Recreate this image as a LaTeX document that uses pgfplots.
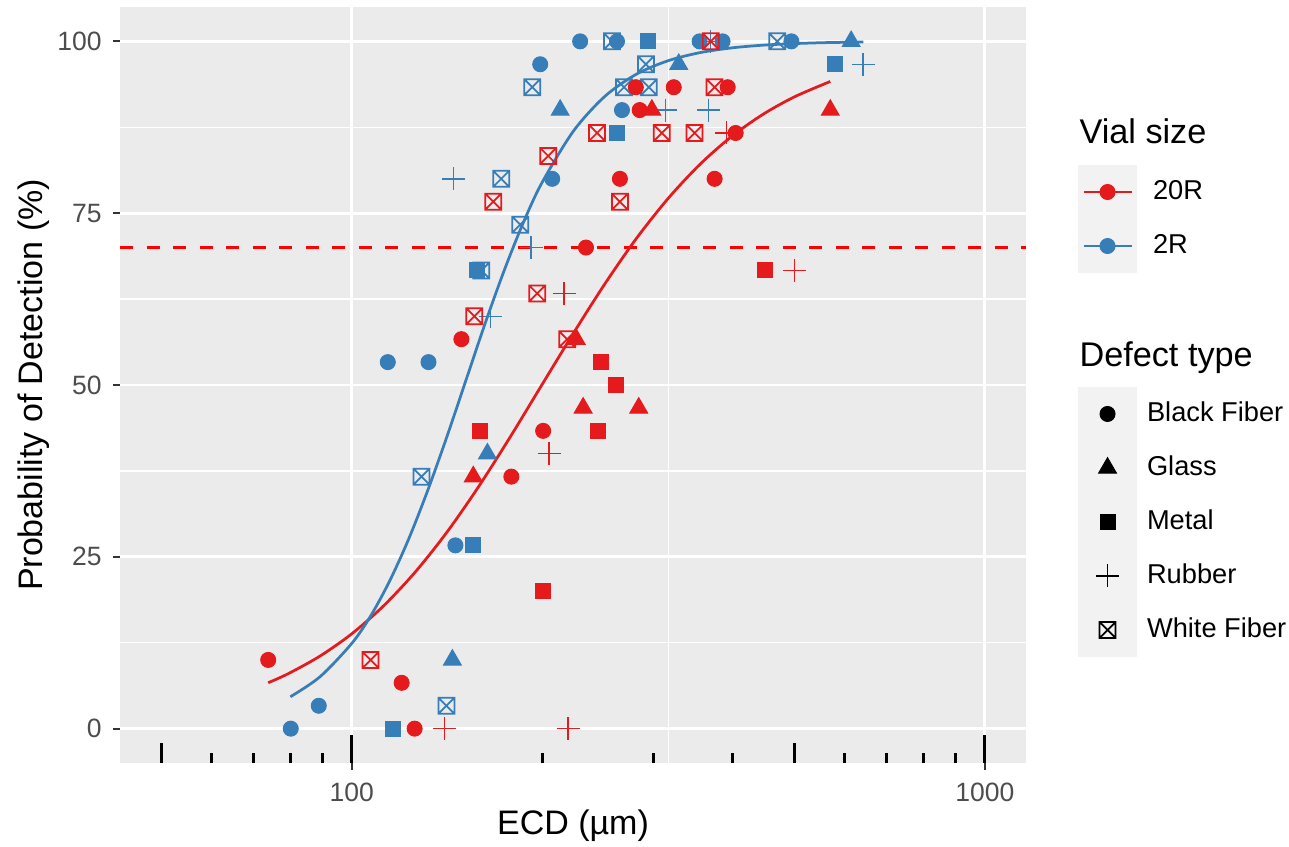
\documentclass[border=0pt]{standalone}
\usepackage{fontspec}
\setmainfont{Liberation Sans}
\usepackage{pgfplots}
\pgfplotsset{compat=1.18}

\definecolor{c20}{HTML}{E41A1C}
\definecolor{c2}{HTML}{377EB8}
\definecolor{ggbg}{HTML}{EBEBEB}
\definecolor{ggkey}{HTML}{F2F2F2}
\definecolor{grey20}{HTML}{333333}
\definecolor{grey30}{HTML}{4D4D4D}

% square with a cross, like R's pch 7
\pgfdeclareplotmark{boxx}{%
  \pgfpathrectangle{\pgfpoint{-\pgfplotmarksize}{-\pgfplotmarksize}}{\pgfpoint{2\pgfplotmarksize}{2\pgfplotmarksize}}%
  \pgfpathmoveto{\pgfpoint{-\pgfplotmarksize}{-\pgfplotmarksize}}%
  \pgfpathlineto{\pgfpoint{\pgfplotmarksize}{\pgfplotmarksize}}%
  \pgfpathmoveto{\pgfpoint{-\pgfplotmarksize}{\pgfplotmarksize}}%
  \pgfpathlineto{\pgfpoint{\pgfplotmarksize}{-\pgfplotmarksize}}%
  \pgfusepathqstroke}

\pgfplotsset{
  bf/.style={only marks, mark=*, mark size=3pt, forget plot},
  gl/.style={only marks, mark=triangle*, mark size=4.1pt, forget plot},
  mt/.style={only marks, mark=square*, mark size=3pt, forget plot},
  rb/.style={only marks, mark=+, mark size=4.6pt, mark options={line width=0.6pt}, forget plot},
  wf/.style={only marks, mark=boxx, mark size=3.2pt, mark options={line width=0.7pt}, forget plot},
}

\begin{document}
\begin{tikzpicture}
\path[use as bounding box] (-48pt,-33.2pt) rectangle (467.6pt,305.2pt);

\begin{axis}[
  name=main, at={(0pt,0pt)}, anchor=south west,
  width=362.4pt, height=302.4pt, scale only axis,
  xmode=log, xmin=43.05, xmax=1161.6, ymin=-5, ymax=105,
  clip=false,
  axis background/.style={fill=ggbg},
  axis line style={draw=none},
  xtick={100,1000}, xticklabels={100,1000},
  ytick={0,25,50,75,100}, yticklabels={0,25,50,75,100},
  minor xtick={316.23}, minor ytick={12.5,37.5,62.5,87.5},
  grid=both,
  major grid style={white, line width=1.15pt},
  minor grid style={white, line width=0.6pt},
  tick align=outside, tick pos=left,
  major tick length=2.8pt, minor tick length=0pt,
  tick style={color=grey20, line width=0.7pt},
  ticklabel style={font=\fontsize{10.6}{12}\selectfont, text=grey30, inner sep=0pt},
  xticklabel style={anchor=north, yshift=-4.8pt},
  yticklabel style={anchor=east, xshift=-4.4pt},
  xlabel={ECD (µm)},
  ylabel={Probability of Detection (\%)},
  label style={font=\fontsize{13.6}{16}\selectfont},
  xlabel style={at={(axis description cs:0.5,-0.0939)}, anchor=base},
  ylabel style={at={(axis description cs:-0.085,0.5)}, anchor=base},
  legend style={at={(axis description cs:1.0574,0.791)}, anchor=north west,
    draw=none, fill=none, inner sep=0pt, outer sep=0pt,
    row sep=0pt, column sep=6.4pt, font=\fontsize{10.9}{12}\selectfont,
    nodes={inner sep=0pt}},
  legend cell align=left,
  legend image code/.code={
    \fill[ggkey] (0pt,-10.6pt) rectangle (23.2pt,10.6pt);
    \draw[#1, line width=1.1pt] (2pt,0pt) -- (21.2pt,0pt);
    \fill[#1] (11.6pt,0pt) circle (3pt);
  },
]

% threshold line
\addplot[color=red, line width=1.3pt, dash pattern=on 5.3pt off 5.3pt, forget plot]
  coordinates {(43.05,70) (1161.6,70)};

% 2R points
\addplot[c2, bf] coordinates {(80.1,0) (88.7,3.33) (114,53.33) (132.2,53.33) (145.8,26.67) (198.5,96.67) (207.3,80) (229.5,100) (262.4,100) (267.2,90) (354.4,100) (385.3,100) (494.8,100)};
\addplot[c2, gl] coordinates {(144.2,10) (163.8,40) (213.4,90) (328.5,96.67) (615,100)};
\addplot[c2, mt] coordinates {(116,0) (155.6,26.67) (157.9,66.67) (262.4,86.67) (293.6,100) (580.4,96.67)};
\addplot[c2, rb] coordinates {(144.7,80) (165.6,60) (192.1,70) (313.3,90) (366.3,90) (642.6,96.67) (368.7,100)};
\addplot[c2, wf] coordinates {(141.1,3.33) (128.9,36.67) (160.2,66.67) (172.2,80) (184.6,73.33) (192.8,93.33) (257.6,100) (291.5,96.67) (269.2,93.33) (294.6,93.33) (470,100)};

% 20R points
\addplot[c20, bf] coordinates {(73.8,10) (119.9,6.67) (125.7,0) (149,56.67) (178.7,36.67) (200.6,43.33) (234.4,70) (265.2,80) (281,93.33) (285,90) (322.6,93.33) (374.3,80) (392.6,93.33) (404,86.67)};
\addplot[c20, gl] coordinates {(155.6,36.67) (226.2,56.67) (232,46.67) (284,46.67) (297.9,90) (570,90)};
\addplot[c20, mt] coordinates {(159.6,43.33) (200.6,20) (247.6,53.33) (261.4,50) (244.9,43.33) (450.3,66.67)};
\addplot[c20, rb] coordinates {(140.1,0) (219.7,0) (205,40) (216.5,63.33) (391,86.67) (500,66.67)};
\addplot[c20, wf] coordinates {(107.1,10) (156.2,60) (167.3,76.67) (204.3,83.33) (196.3,63.33) (218.9,56.67) (244,86.67) (265.2,76.67) (308.9,86.67) (348,86.67) (374.3,93.33) (369,100)};

% fitted curves
\addplot[c20, line width=1.1pt, smooth, forget plot] coordinates {
  (73.8,6.68) (79.4,8.00) (89.1,10.56) (100,13.80) (112.2,17.84) (125.9,22.76)
  (141.3,28.56) (158.5,35.16) (177.8,42.38) (199.5,49.95) (223.9,57.52)
  (251.2,64.75) (281.8,71.36) (316.2,77.17) (354.8,82.10) (398.1,86.16)
  (446.7,89.41) (501.2,91.96) (570,94.16)};
\addplot[c2, line width=1.1pt, smooth, forget plot] coordinates {
  (80,4.64) (89.1,7.55) (100,12.40) (107.2,16.45) (114.8,21.50) (123,27.59)
  (131.8,34.64) (141.3,42.43) (151.4,50.62) (162.2,58.78) (173.8,66.48)
  (186.2,73.40) (199.5,79.33) (223.9,86.93) (251.2,92.02) (281.8,95.24)
  (316.2,97.19) (354.8,98.36) (398.1,99.05) (446.7,99.45) (501.2,99.68)
  (562.3,99.82) (642.7,99.90)};

\addlegendimage{c20}\addlegendentry{20R}
\addlegendimage{c2}\addlegendentry{2R}

% log ticks along the bottom
\pgfplotsinvokeforeach{60,70,80,90,200,300,400,600,700,800,900}{
  \draw[black, line width=1.2pt] (axis cs:#1,-5) -- ++(0pt,4pt);}
\pgfplotsinvokeforeach{50,500}{
  \draw[black, line width=1.2pt] (axis cs:#1,-5) -- ++(0pt,8pt);}
\pgfplotsinvokeforeach{100,1000}{
  \draw[black, line width=1.2pt] (axis cs:#1,-5) -- ++(0pt,11.2pt);}

\node[anchor=base west, inner sep=0pt, font=\fontsize{13.7}{16}\selectfont] at (axis description cs:1.0585,0.8193) {Vial size};
\node[anchor=base west, inner sep=0pt, font=\fontsize{13.7}{16}\selectfont] at (axis description cs:1.0585,0.5251) {Defect type};
\end{axis}

\begin{axis}[
  at={(0pt,0pt)}, anchor=south west,
  width=362.4pt, height=302.4pt, scale only axis,
  hide axis, xmin=0, xmax=1, ymin=0, ymax=1,
  legend style={at={(axis description cs:1.0574,0.4974)}, anchor=north west,
    draw=none, fill=none, inner sep=0pt, outer sep=0pt,
    row sep=0pt, column sep=4pt, font=\fontsize{10.9}{12}\selectfont,
    nodes={inner sep=0pt}},
  legend cell align=left,
  legend image code/.code={
    \fill[ggkey] (0pt,-10.6pt) rectangle (23.2pt,10.6pt);
    \draw[black, #1] plot coordinates {(11.6pt,0pt)};
  },
]
\addlegendimage{only marks, mark=*, mark size=3pt}\addlegendentry{Black Fiber}
\addlegendimage{only marks, mark=triangle*, mark size=4.1pt}\addlegendentry{Glass}
\addlegendimage{only marks, mark=square*, mark size=3pt}\addlegendentry{Metal}
\addlegendimage{only marks, mark=+, mark size=4.6pt, mark options={line width=0.6pt}}\addlegendentry{Rubber}
\addlegendimage{only marks, mark=boxx, mark size=3.2pt, mark options={line width=0.7pt}}\addlegendentry{White Fiber}
\end{axis}
\end{tikzpicture}
\end{document}
